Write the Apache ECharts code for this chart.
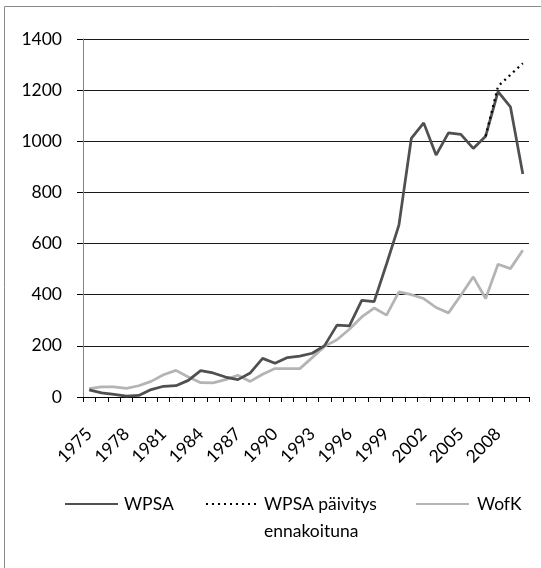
<!DOCTYPE html>
<html><head><meta charset="utf-8">
<script src="https://cdn.jsdelivr.net/npm/echarts@6/dist/echarts.min.js"></script>
<style>html,body{margin:0;padding:0;background:#fff}#c{width:541px;height:568px}</style>
</head><body><div id="c"></div>
<script>
const years = ['1975','1976','1977','1978','1979','1980','1981','1982','1983','1984','1985','1986','1987','1988','1989','1990','1991','1992','1993','1994','1995','1996','1997','1998','1999','2000','2001','2002','2003','2004','2005','2006','2007','2008','2009','2010'];
const wpsa = [28,16,10,3,6,29,42,44,65,103,94,78,68,94,151,132,154,160,171,201,281,278,378,373,520,672,1011,1072,946,1033,1027,972,1020,1194,1135,872];
const wpsaProj = [null,null,null,null,null,null,null,null,null,null,null,null,null,null,null,null,null,null,null,null,null,null,null,null,null,null,null,null,null,null,null,null,1020,1215,1260,1305];
const wofk = [33,40,40,34,44,61,87,104,78,56,55,68,85,61,89,111,111,111,154,198,224,265,313,348,320,411,400,385,350,329,398,470,385,519,502,574];
const yTicks = [0,200,400,600,800,1000,1200,1400];

const FONT = 'Lato';
const legendText = {fontSize:17.5,color:'#000',fontFamily:FONT,lineHeight:27};
const chart = echarts.init(document.getElementById('c'), null, {renderer:'canvas'});
chart.setOption({
  animation:false,
  textStyle:{fontFamily:FONT},
  graphic:[{type:'rect',shape:{x:4.5,y:6.5,width:700,height:700},style:{fill:'none',stroke:'#8a8a8a',lineWidth:1},silent:true}],
  grid:{left:83,right:12,top:39,bottom:171,containLabel:false},
  xAxis:{type:'category',data:years,boundaryGap:true,
    axisLine:{lineStyle:{color:'#000',width:1}},
    axisTick:{show:true,interval:0,length:5,lineStyle:{color:'#000'}},
    axisLabel:{interval:2,rotate:45,fontSize:17.5,color:'#000',fontFamily:FONT,margin:34}},
  yAxis:{type:'value',min:yTicks[0],max:yTicks[yTicks.length-1],interval:200,
    axisLine:{show:true,lineStyle:{color:'#868686'}},
    axisTick:{show:true,length:6,lineStyle:{color:'#000'}},
    splitLine:{lineStyle:{color:'#1a1a1a',width:1}},
    axisLabel:{fontSize:17.5,color:'#000',fontFamily:FONT,margin:21,formatter:v=>String(v)}},
  legend:[
    {data:['WPSA'],left:59,top:485.5,itemWidth:53,itemHeight:14,itemGap:0,itemStyle:{opacity:0},
      textStyle:Object.assign({},legendText,{padding:[0,0,0,1]})},
    {data:['WPSA päivitys ennakoituna'],left:200,top:458.5,itemWidth:50,itemHeight:14,itemGap:0,itemStyle:{opacity:0},
      formatter:n=>'\n'+n.replace(' ennakoituna','\nennakoituna'),textStyle:Object.assign({},legendText,{padding:[0,0,0,3]})},
    {data:['WofK'],left:410,top:485.5,itemWidth:53,itemHeight:14,itemGap:0,itemStyle:{opacity:0},
      textStyle:Object.assign({},legendText,{padding:[0,0,0,3]})}
  ],
  series:[
    {name:'WPSA',type:'line',data:wpsa,symbol:'none',lineStyle:{color:'#505050',width:2.75},itemStyle:{color:'#505050'},z:3},
    {name:'WPSA päivitys ennakoituna',type:'line',data:wpsaProj,symbol:'none',connectNulls:false,lineStyle:{color:'#000',width:2.25,type:[2,4]},itemStyle:{color:'#000'},z:4},
    {name:'WofK',type:'line',data:wofk,symbol:'none',lineStyle:{color:'#b4b4b4',width:2.75},itemStyle:{color:'#b4b4b4'},z:2}
  ]
});
</script></body></html>
